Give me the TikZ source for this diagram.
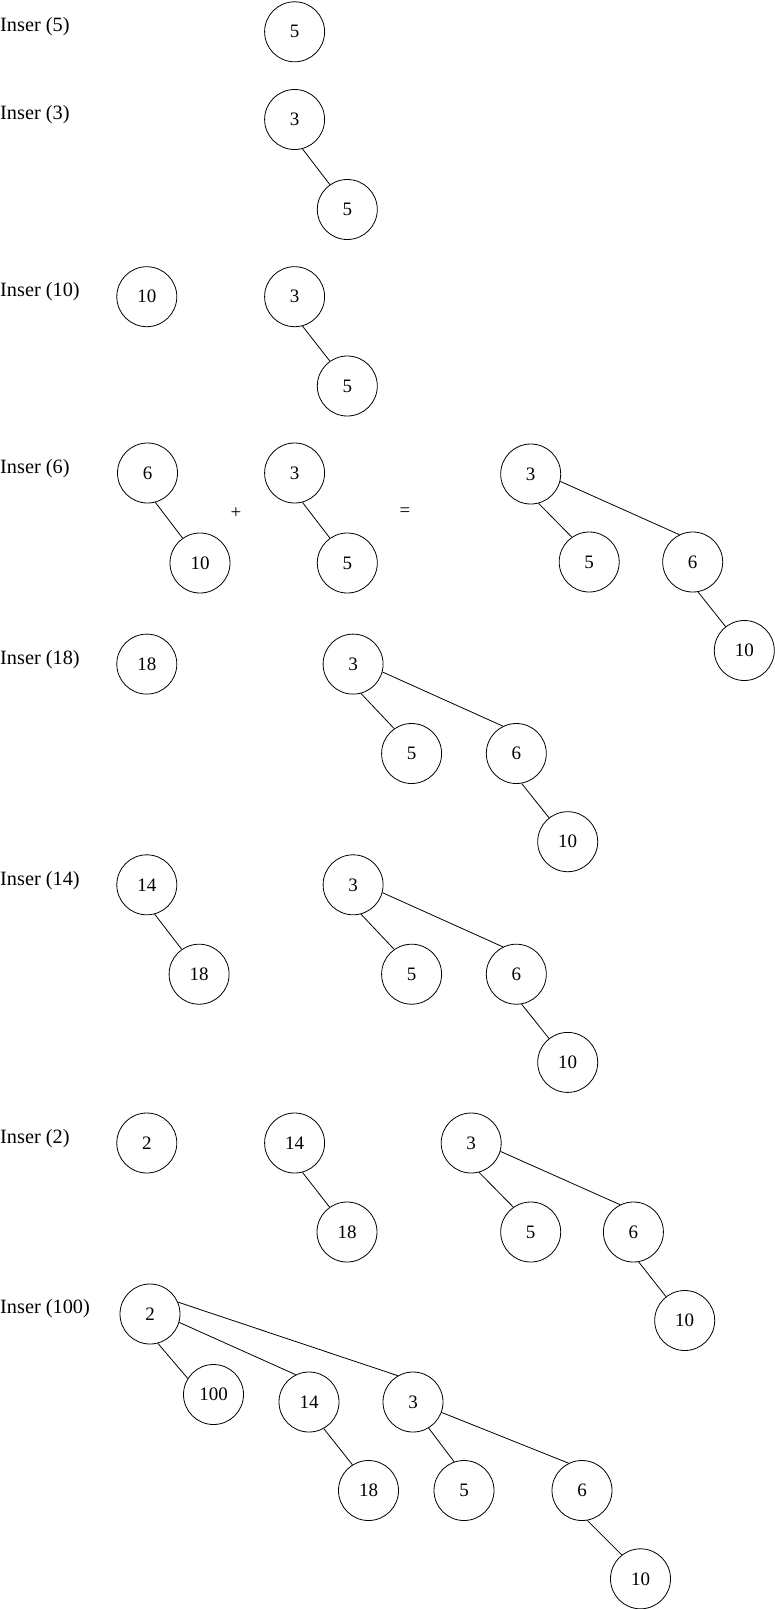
\documentclass[tikz,border=0pt]{standalone}
\usepackage{fontspec}
\setmainfont{Liberation Serif}
\begin{document}
\begin{tikzpicture}[x=1pt,y=-1pt,
  nd/.style={circle,draw,line width=0.8pt,minimum size=60pt,inner sep=0pt,font=\fontsize{19}{22}\selectfont},
  lbl/.style={anchor=base west,inner sep=0pt,font=\fontsize{20.3}{23}\selectfont},
  op/.style={inner sep=0pt,font=\fontsize{19}{22}\selectfont},
  ed/.style={line width=0.8pt}]
\useasboundingbox (0,0) rectangle (775,1609);
% Row 1
\node[lbl] (l1) at (0,31) {Inser (5)};
\node[nd] (a5) at (294.6,31.8) {5};
% Row 2
\node[lbl] (l2) at (0,119) {Inser (3)};
\node[nd] (b3) at (294.6,119.5) {3};
\node[nd] (b5) at (347.3,209.5) {5};
\draw[ed] (b3.-75) -- (b5.125);
% Row 3
\node[lbl] (l3) at (0,296) {Inser (10)};
\node[nd] (c10) at (146.8,296.7) {10};
\node[nd] (c3) at (294.6,296.7) {3};
\node[nd] (c5) at (347.3,386) {5};
\draw[ed] (c3.-75) -- (c5.125);
% Row 4
\node[lbl] (l4) at (0,473) {Inser (6)};
\node[nd] (d6) at (147.5,473) {6};
\node[nd] (d10) at (200,563) {10};
\draw[ed] (d6.-75) -- (d10.125);
\node[op] (dplus) at (236,513) {+};
\node[nd] (d3) at (294.6,473) {3};
\node[nd] (d5) at (347.3,563) {5};
\draw[ed] (d3.-75) -- (d5.125);
\node[op] (deq) at (405,512) {=};
\node[nd] (e3) at (530.7,474) {3};
\node[nd] (e5) at (589.2,562) {5};
\node[nd] (e6) at (692.7,562) {6};
\node[nd] (e10) at (744.3,650.5) {10};
\draw[ed] (e3.-75) -- (e5.125);
\draw[ed] (e3.-14) -- (e6.116);
\draw[ed] (e6.-80) -- (e10.128);
% Row 5
\node[lbl] (l5) at (0,664) {Inser (18)};
\node[nd] (f18) at (146.8,664.1) {18};
\node[nd] (f3) at (353.1,664.1) {3};
\node[nd] (f5) at (411.6,753.5) {5};
\node[nd] (f6) at (516.3,753.5) {6};
\node[nd] (f10) at (567.7,841.7) {10};
\draw[ed] (f3.-75) -- (f5.125);
\draw[ed] (f3.-15) -- (f6.116);
\draw[ed] (f6.-80) -- (f10.128);
% Row 6
\node[lbl] (l6) at (0,885) {Inser (14)};
\node[nd] (g14) at (146.8,884.8) {14};
\node[nd] (g18) at (199.1,974.2) {18};
\draw[ed] (g14.-75) -- (g18.125);
\node[nd] (g3) at (353.1,884.8) {3};
\node[nd] (g5) at (411.6,974.2) {5};
\node[nd] (g6) at (516.3,974.2) {6};
\node[nd] (g10) at (567.7,1062.4) {10};
\draw[ed] (g3.-75) -- (g5.125);
\draw[ed] (g3.-15) -- (g6.116);
\draw[ed] (g6.-80) -- (g10.128);
% Row 7
\node[lbl] (l7) at (0,1143) {Inser (2)};
\node[nd] (h2) at (146.8,1143) {2};
\node[nd] (h14) at (294.6,1143) {14};
\node[nd] (h18) at (347,1232) {18};
\draw[ed] (h14.-75) -- (h18.125);
\node[nd] (h3) at (471.2,1143) {3};
\node[nd] (h5) at (530.7,1232) {5};
\node[nd] (h6) at (633.4,1232) {6};
\node[nd] (h10) at (684.7,1320.5) {10};
\draw[ed] (h3.-75) -- (h5.125);
\draw[ed] (h3.-16) -- (h6.116);
\draw[ed] (h6.-80) -- (h10.128);
% Row 8
\node[lbl] (l8) at (0,1313) {Inser (100)};
\node[nd] (k2) at (150,1314) {2};
\node[nd] (k100) at (213.5,1394.5) {100};
\node[nd] (k14) at (309,1402) {14};
\node[nd] (k3) at (413,1402) {3};
\node[nd] (k18) at (368.5,1490.5) {18};
\node[nd] (k5) at (464,1490.5) {5};
\node[nd] (k6) at (582,1490.5) {6};
\node[nd] (k10) at (640.5,1578.8) {10};
\draw[ed] (k2.-75) -- (k100.148);
\draw[ed] (k2.-16) -- (k14.116);
\draw[ed] (k2.23) -- (k3.120);
\draw[ed] (k14.-61) -- (k18.122);
\draw[ed] (k3.-59) -- (k5.109);
\draw[ed] (k3.-20) -- (k6.116);
\draw[ed] (k6.-80) -- (k10.128);
\end{tikzpicture}
\end{document}
